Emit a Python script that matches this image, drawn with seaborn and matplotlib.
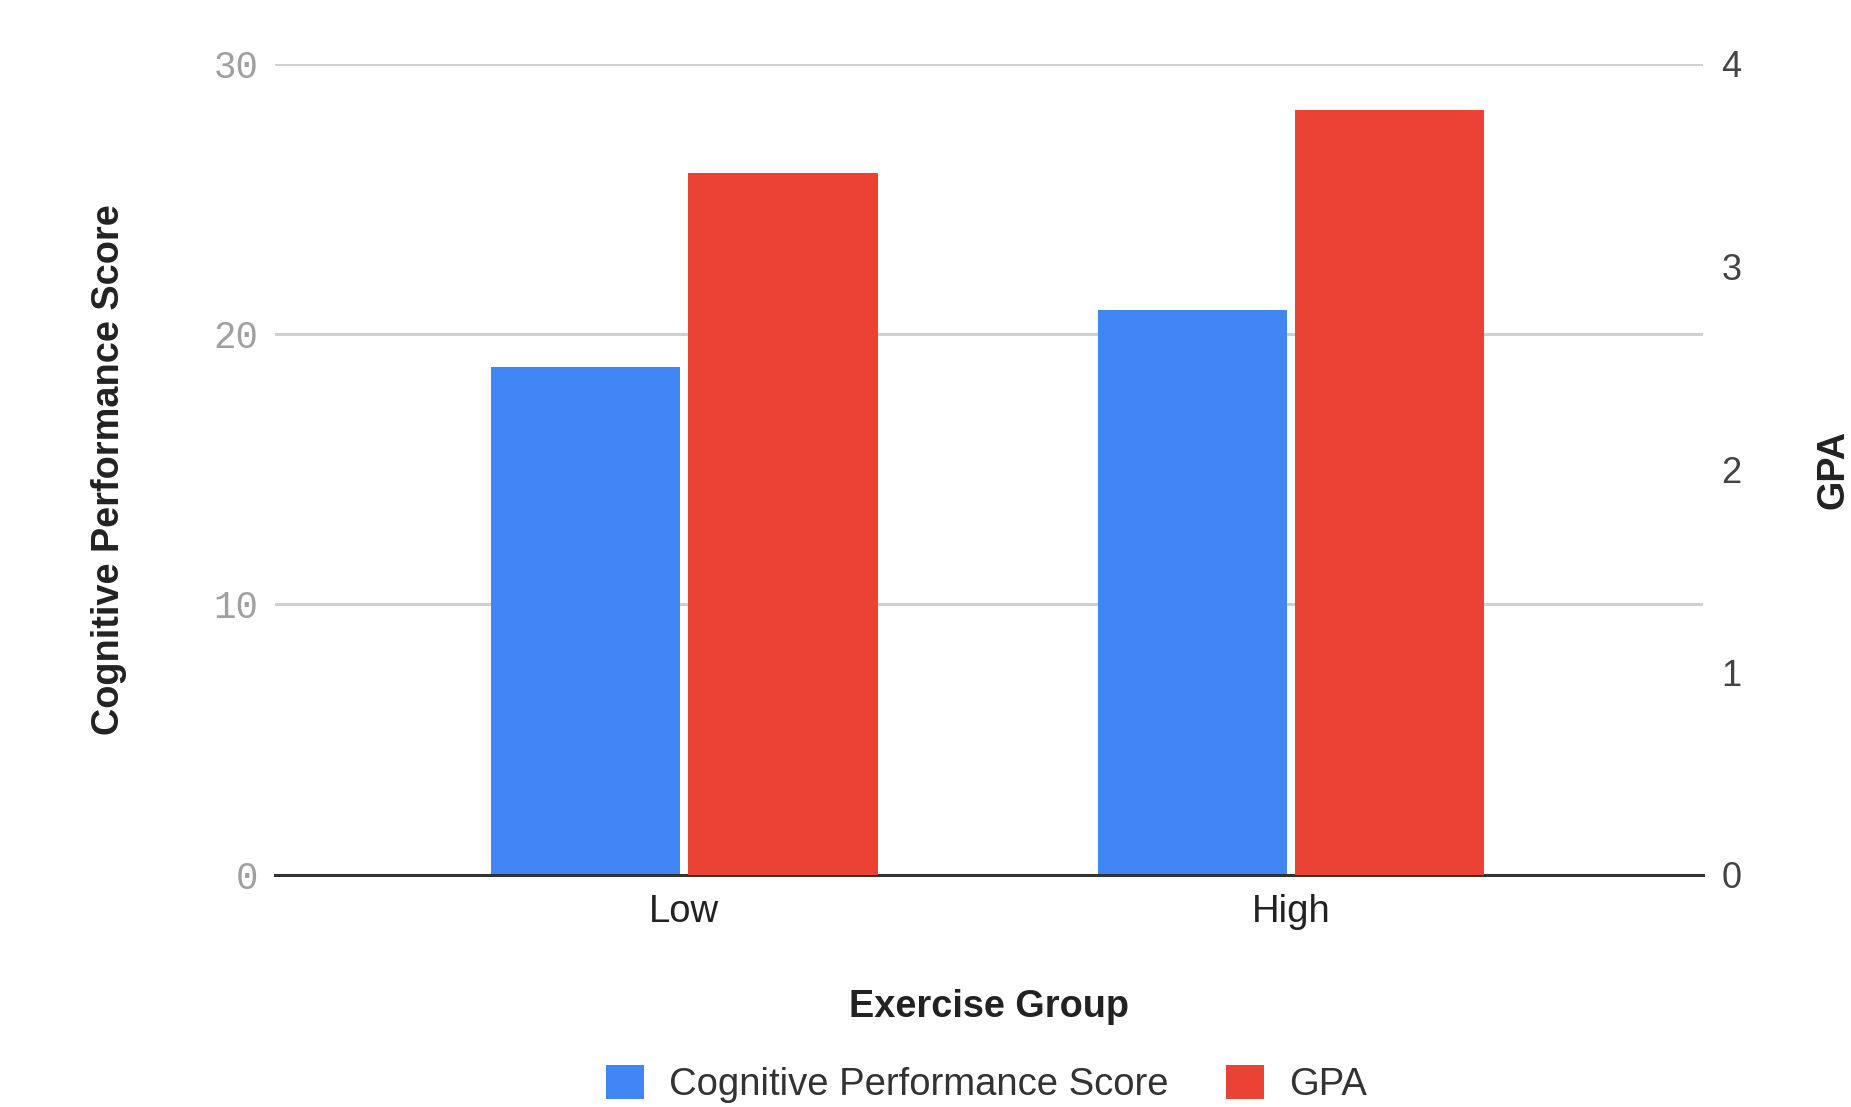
import matplotlib
matplotlib.use('Agg')
import matplotlib.pyplot as plt
import seaborn as sns
import pandas as pd
import numpy as np
from matplotlib.patches import Patch

# ---- data ----
groups = ['Low', 'High']
series = ['Cognitive Performance Score', 'GPA']
cognitive = [18.8, 20.9]
gpa = [3.46, 3.77]
left_ticks = [0, 10, 20, 30]
right_ticks = [0, 1, 2, 3, 4]
colors = ['#4285F4', '#EA4335']

sns.set_theme(style='white')
plt.rcParams['font.family'] = ['Liberation Sans', 'DejaVu Sans']

fig = plt.figure(figsize=(18.51, 11.07), dpi=100)
ax = fig.add_axes([0.1486, 0.2097, 0.7715, 0.7328])
ax2 = ax.twinx()

df_cog = pd.DataFrame({
    'Group': groups * 2,
    'Series': [series[0]] * len(groups) + [series[1]] * len(groups),
    'Value': cognitive + [np.nan] * len(groups),
})
df_gpa = pd.DataFrame({
    'Group': groups * 2,
    'Series': [series[0]] * len(groups) + [series[1]] * len(groups),
    'Value': [np.nan] * len(groups) + gpa,
})

pal = dict(zip(series, colors))
sns.barplot(data=df_cog, x='Group', y='Value', hue='Series', hue_order=series,
            order=groups, palette=pal, width=0.65, gap=0.04, ax=ax,
            legend=False, errorbar=None, linewidth=0, saturation=1)
sns.barplot(data=df_gpa, x='Group', y='Value', hue='Series', hue_order=series,
            order=groups, palette=pal, width=0.65, gap=0.04, ax=ax2,
            legend=False, errorbar=None, linewidth=0, saturation=1)

ax.set_xlim(-0.675, 1.68)
ax.set_ylim(0, 30)
ax2.set_ylim(0, 4)
ax.set_yticks(left_ticks)
ax.set_yticklabels([str(t) for t in left_ticks], family=['Liberation Mono', 'DejaVu Sans Mono'],
                   color='#a0a0a0', fontsize=27)
ax2.set_yticks(right_ticks)
ax2.set_yticklabels([str(t) for t in right_ticks], color='#444444', fontsize=26)
ax.tick_params(axis='y', length=0, pad=12)
ax2.tick_params(axis='y', length=0, pad=13)
ax.tick_params(axis='x', length=0, pad=14, labelsize=27.5, labelcolor='#222222')

ax.set_axisbelow(True)
ax.yaxis.grid(True, color='#d0d0d0', linewidth=2.2)
ax.xaxis.grid(False)
ax2.grid(False)
for a in (ax, ax2):
    for s in ['top', 'left', 'right']:
        a.spines[s].set_visible(False)
ax2.spines['bottom'].set_visible(False)
ax.spines['bottom'].set_color('#333333')
ax.spines['bottom'].set_linewidth(2.2)
ax.spines['bottom'].set_zorder(5)

ax.set_xlabel('Exercise Group', fontsize=27.3, fontweight='bold', color='#222222', labelpad=42)
ax.set_ylabel('Cognitive Performance Score', fontsize=27.3, fontweight='bold', color='#222222')
ax.yaxis.set_label_coords(-0.104, 0.5)
ax2.set_ylabel('GPA', fontsize=27.3, fontweight='bold', color='#222222', rotation=90)
ax2.yaxis.set_label_coords(1.079, 0.5)

handles = [Patch(facecolor=c, edgecolor='none') for c in colors]
fig.legend(handles, series, loc='center', bbox_to_anchor=(0.533, 0.021), ncol=2,
           frameon=False, fontsize=27.5, handlelength=1.0, handleheight=1.0,
           handletextpad=0.65, columnspacing=1.5, labelcolor='#333333')

fig.savefig('out.png', dpi=100)
